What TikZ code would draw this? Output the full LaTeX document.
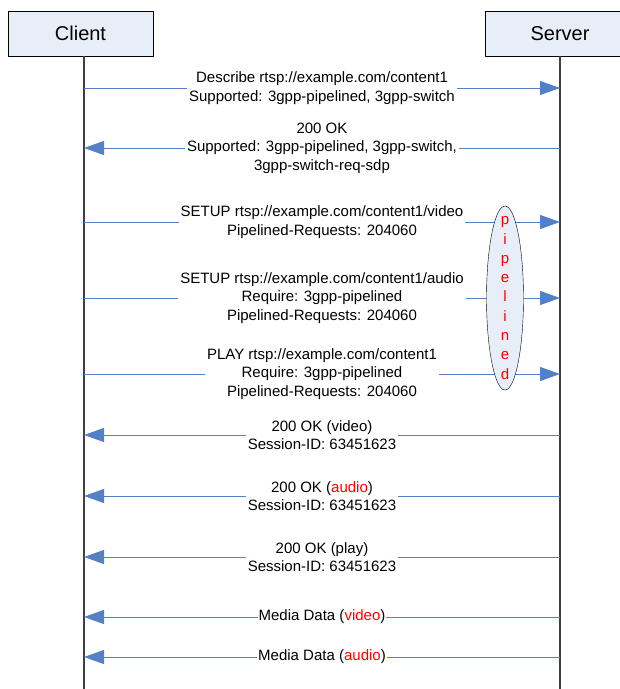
\documentclass[tikz,border=0pt]{standalone}
\usepackage{fontspec}
\setmainfont{Liberation Sans}
\usetikzlibrary{arrows.meta}
\definecolor{msgblue}{RGB}{84,128,200}
\definecolor{boxfill}{RGB}{232,238,247}
\tikzset{
  actor/.style={draw,fill=boxfill,minimum width=145pt,minimum height=45pt,font=\fontsize{20}{24}\selectfont},
  life/.style={draw=black!75,line width=1.2pt},
  msg/.style={draw=msgblue,line width=1pt,-{Triangle[length=20pt,width=14pt]}},
  lbl/.style={fill=white,align=center,inner sep=2pt,font=\fontsize{15}{18.5}\selectfont}
}
\begin{document}
\begin{tikzpicture}[x=1pt,y=-1pt,line join=round]
\useasboundingbox (0,0) rectangle (620,689);
\node[actor] (client) at (80.5,33.5) {Client};
\node[actor,minimum width=150pt] (server) at (560,33.5) {Server};
\path (84,56) coordinate (ctop) (84,689) coordinate (cbot)
      (560,56) coordinate (stop) (560,689) coordinate (sbot)
      (505,298) coordinate (pc);
\draw[life] (ctop)--(cbot);
\draw[life] (stop)--(sbot);
\foreach \n/\y in {1/88,2/148,3/222,4/298,5/374,6/435,7/496,8/557,9/617,10/657}{
  \path (84,\y) coordinate (c\n) (560,\y) coordinate (s\n);
}
\draw[msg] (c1) -- node[lbl]{Describe rtsp://example.com/content1\\Supported: 3gpp-pipelined, 3gpp-switch} (s1);
\draw[msg] (s2) -- node[lbl]{200 OK\\Supported: 3gpp-pipelined, 3gpp-switch,\\3gpp-switch-req-sdp} (c2);
\draw[msg] (c3) -- node[lbl]{SETUP rtsp://example.com/content1/video\\Pipelined-Requests: 204060} (s3);
\draw[msg] (c4) -- node[lbl]{SETUP rtsp://example.com/content1/audio\\Require: 3gpp-pipelined\\Pipelined-Requests: 204060} (s4);
\draw[msg] (c5) -- node[lbl]{PLAY rtsp://example.com/content1\\Require: 3gpp-pipelined\\Pipelined-Requests: 204060} (s5);
\draw[msg] (s6) -- node[lbl]{200 OK (video)\\Session-ID: 63451623} (c6);
\draw[msg] (s7) -- node[lbl]{200 OK (\textcolor{red}{audio})\\Session-ID: 63451623} (c7);
\draw[msg] (s8) -- node[lbl]{200 OK (play)\\Session-ID: 63451623} (c8);
\draw[msg] (s9) -- node[lbl,inner sep=1pt]{Media Data (\textcolor{red}{video})} (c9);
\draw[msg] (s10) -- node[lbl,inner sep=1pt]{Media Data (\textcolor{red}{audio})} (c10);
\draw[fill=boxfill] (pc) ellipse (18.5 and 92);
\node[align=center,text=red,inner sep=0pt,font=\fontsize{15}{19.3}\selectfont] (pipe) at (pc) {p\\i\\p\\e\\l\\i\\n\\e\\d};
\end{tikzpicture}
\end{document}
